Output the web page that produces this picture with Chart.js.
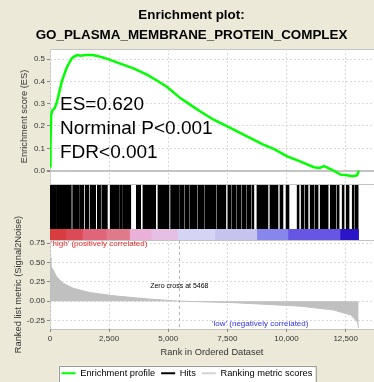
<!DOCTYPE html>
<html>
<head>
<meta charset="utf-8">
<script src="https://cdn.jsdelivr.net/npm/chart.js@4.4.1/dist/chart.umd.min.js"></script>
<style>
  html, body { margin:0; padding:0; width:374px; height:382px; overflow:hidden; background:#ece9d8; }
  .panel { position:absolute; left:50px; width:340px; background:#fff; border:1px solid #c4c4c4; box-sizing:border-box; }
  canvas { position:absolute; left:0; }
</style>
</head>
<body>
<div class="panel" style="top:49px;height:136px"></div>
<div class="panel" style="top:184px;height:57px"></div>
<div class="panel" style="top:240px;height:90px"></div>
<canvas id="es" width="374" height="184" style="top:0"></canvas>
<canvas id="hits" width="374" height="44" style="top:185px"></canvas>
<canvas id="strip" width="374" height="11" style="top:229px"></canvas>
<canvas id="metric" width="374" height="188" style="top:200px"></canvas>
<script>
Chart.defaults.font.family = '"Liberation Sans", Arial, sans-serif';

// axis ticks
const rankTicks = [0, 2500, 5000, 7500, 10000, 12500];
const esTicks = [0, 0.1, 0.2, 0.3, 0.4, 0.5];
const metricTicks = [-0.25, 0, 0.25, 0.5, 0.75];
const rankMax = 13700;

// running enrichment score
const esRank  = [0, 20, 50, 100, 200, 300, 400, 500, 600, 700, 800, 900, 1000, 1150, 1300, 1500, 1800, 2000, 2300, 2540, 3000, 3530, 4100, 4500, 4940, 5510, 6000, 6360, 6920, 7500, 8330, 9000, 9500, 10030, 10600, 11160, 11400, 11590, 11900, 12290, 12500, 12780, 12950, 13000, 13050];
const esValue = [0.02, 0.12, 0.25, 0.27, 0.28, 0.31, 0.355, 0.40, 0.43, 0.46, 0.48, 0.50, 0.51, 0.518, 0.515, 0.518, 0.518, 0.514, 0.505, 0.496, 0.478, 0.458, 0.43, 0.405, 0.376, 0.325, 0.29, 0.265, 0.228, 0.198, 0.153, 0.118, 0.095, 0.064, 0.04, 0.015, 0.012, 0.02, 0.005, -0.018, -0.02, -0.025, -0.022, -0.018, 0.0];

// gene set hits (blocks of ranks)
const hitStart = [0, 270, 960, 1250, 1490, 1700, 2000, 2190, 2545, 2945, 3085, 3650, 3930, 4565, 5100, 5480, 5700, 5910, 6040, 6250, 6545, 6885, 7055, 7520, 7690, 7900, 8115, 8325, 8540, 8750, 9005, 9300, 9725, 9980, 10450, 10620, 10790, 11000, 11210, 11425, 11550, 11850, 11975, 12145, 12355, 12525, 12780, 12905];
const hitEnd   = [240, 900, 1215, 1430, 1645, 1930, 2140, 2425, 2915, 3060, 3415, 3835, 4470, 5035, 5445, 5655, 5870, 6035, 6205, 6505, 6885, 7010, 7435, 7650, 7860, 8070, 8285, 8495, 8620, 9000, 9215, 9640, 9850, 10105, 10530, 10740, 10910, 11165, 11335, 11545, 11760, 11970, 12095, 12225, 12435, 12645, 12860, 13030];

// ranked list colour strip
const stripStart = [0, 700, 1400, 2400, 3390, 4300, 5420, 7000, 8770, 10085, 12290];
const stripEnd   = [700, 1400, 2400, 3390, 4300, 5420, 7000, 8770, 10085, 12290, 13050];
const stripColor = ['#d83c3e', '#dc4a56', '#e0647a', '#e07a8a', '#eab0d8', '#e6c0e4', '#d4d4f4', '#c4c4ee', '#8686ec', '#6656e4', '#2a16c8'];

// ranked list metric
const metricRank  = [0, 40, 140, 280, 560, 990, 1700, 2830, 4240, 5468, 7770, 10600, 12000, 12720, 13000, 13050];
const metricValue = [0.56, 0.45, 0.40, 0.315, 0.23, 0.165, 0.11, 0.065, 0.026, 0, -0.02, -0.065, -0.115, -0.18, -0.27, -0.345];
const zeroCross = 5468;

const statLines = ['ES=0.620', 'Norminal P<0.001', 'FDR<0.001'];

const gridColor = '#dadada';
const tickFont = { size: 8 };
const setTicks = list => scale => { scale.ticks = list.map(v => ({ value: v })); };
const fixWidth = w => s => { s.width = w; s.paddingTop = 0; s.paddingBottom = 0; };

const statsPlugin = {
  id: 'stats',
  afterDraw(chart) {
    const ctx = chart.ctx, a = chart.chartArea;
    ctx.save();
    ctx.font = '19px "Liberation Sans", Arial, sans-serif';
    ctx.fillStyle = '#000';
    ctx.textBaseline = 'middle';
    statLines.forEach((t, i) => ctx.fillText(t, a.left + 10, a.top + 56 + i * 24));
    ctx.restore();
  }
};

new Chart(document.getElementById('es'), {
  type: 'line',
  data: {
    datasets: [{
      data: esRank.map((r, i) => ({ x: r, y: esValue[i] })),
      borderColor: '#00ff00', borderWidth: 2.5, pointRadius: 0, fill: false, tension: 0
    }]
  },
  options: {
    responsive: false, animation: false,
    layout: { padding: { left: 9, right: 0, top: 0, bottom: 0 } },
    plugins: {
      legend: { display: false }, tooltip: { enabled: false },
      title: {
        display: true,
        text: ['Enrichment plot:', 'GO_PLASMA_MEMBRANE_PROTEIN_COMPLEX'],
        color: '#000', font: { size: 13.4, weight: 'bold', lineHeight: 20 / 13.4 },
        padding: { top: 5, bottom: 4 }
      }
    },
    scales: {
      x: {
        type: 'linear', min: 0, max: rankMax, afterBuildTicks: setTicks(rankTicks),
        afterFit: s => { s.height = 0; s.paddingLeft = 0; s.paddingRight = 0; },
        ticks: { display: false },
        grid: { color: gridColor, drawTicks: false },
        border: { display: false, dash: [2, 2] }
      },
      y: {
        min: -0.06, max: 0.545, afterBuildTicks: setTicks(esTicks),
        afterFit: fixWidth(41),
        ticks: { font: tickFont, color: '#333', padding: 2, callback: v => v.toFixed(1) },
        grid: {
          color: c => (c.tick && c.tick.value === 0 ? '#c4c4c4' : gridColor),
          lineWidth: c => (c.tick && c.tick.value === 0 ? 2 : 1),
          tickLength: 3, tickColor: '#888'
        },
        border: { display: false, dash: c => (c.tick && c.tick.value === 0 ? [] : [2, 2]) },
        title: { display: true, text: 'Enrichment score (ES)', color: '#333', font: { size: 9.3 }, padding: { top: 9.4, bottom: 0 } }
      }
    }
  },
  plugins: [statsPlugin]
});

function stripChart(id, starts, ends, colors) {
  return new Chart(document.getElementById(id), {
    type: 'bar',
    data: {
      labels: ['r'],
      datasets: [{
        data: starts.map((s, i) => ({ x: [s, ends[i]], y: 'r' })),
        backgroundColor: colors, borderWidth: 0,
        barPercentage: 1, categoryPercentage: 1, grouped: false
      }]
    },
    options: {
      indexAxis: 'y', responsive: false, animation: false,
      layout: { padding: { left: 50, right: 0, top: 0, bottom: 0 } },
      plugins: { legend: { display: false }, tooltip: { enabled: false } },
      scales: {
        x: { type: 'linear', min: 0, max: rankMax, display: false },
        y: { display: false }
      }
    }
  });
}
stripChart('hits', hitStart, hitEnd, '#000');
stripChart('strip', stripStart, stripEnd, stripColor);

const notesPlugin = {
  id: 'notes',
  beforeDraw(chart) {
    const boxes = chart.legend && chart.legend.legendHitBoxes;
    if (!boxes || !boxes.length) return;
    const ctx = chart.ctx;
    const l = Math.min(...boxes.map(b => b.left)) - 3;
    const r = Math.max(...boxes.map(b => b.left + b.width)) + 3;
    const t = boxes[0].top - 3;
    ctx.save();
    ctx.fillStyle = '#fff';
    ctx.strokeStyle = '#999';
    ctx.lineWidth = 1;
    ctx.fillRect(l, t, r - l, chart.height - t + 2);
    ctx.strokeRect(Math.round(l) + 0.5, Math.round(t) + 0.5, r - l, chart.height - t + 4);
    ctx.restore();
  },
  afterDatasetsDraw(chart) {
    const ctx = chart.ctx, a = chart.chartArea;
    const zx = chart.scales.x.getPixelForValue(zeroCross);
    ctx.save();
    ctx.strokeStyle = '#b4b4b4';
    ctx.setLineDash([3, 3]);
    ctx.beginPath();
    ctx.moveTo(Math.round(zx) + 0.5, a.top);
    ctx.lineTo(Math.round(zx) + 0.5, a.bottom);
    ctx.stroke();
    ctx.setLineDash([]);
    ctx.textBaseline = 'middle';
    ctx.font = '7px "Liberation Sans", Arial, sans-serif';
    ctx.fillStyle = '#000';
    ctx.textAlign = 'center';
    ctx.fillText('Zero cross at ' + zeroCross, zx, a.top + 46);
    ctx.font = '8px "Liberation Sans", Arial, sans-serif';
    ctx.textAlign = 'left';
    ctx.fillStyle = '#e42828';
    ctx.fillText("'high' (positively correlated)", a.left + 1, a.top + 4);
    ctx.fillStyle = '#3232e6';
    ctx.fillText("'low' (negatively correlated)", a.left + 162, a.bottom - 5);
    ctx.restore();
  }
};

const legendItems = [
  { text: 'Enrichment profile', fillStyle: '#00ff00' },
  { text: 'Hits', fillStyle: '#000000' },
  { text: 'Ranking metric scores', fillStyle: '#d4d4d4' }
];

new Chart(document.getElementById('metric'), {
  type: 'line',
  data: {
    datasets: [{
      label: 'Ranking metric scores',
      data: metricRank.map((r, i) => ({ x: r, y: metricValue[i] })),
      borderColor: '#c0c0c0', backgroundColor: '#c0c0c0', borderWidth: 1,
      pointRadius: 0, fill: 'origin', tension: 0
    }]
  },
  options: {
    responsive: false, animation: false,
    layout: { padding: { left: 0, right: 0, top: 40, bottom: 0 } },
    plugins: {
      tooltip: { enabled: false },
      legend: {
        position: 'bottom',
        labels: {
          boxWidth: 14, boxHeight: 2, padding: 6, color: '#000', font: { size: 9.3 },
          generateLabels: () => legendItems.map(it => ({
            text: it.text, fillStyle: it.fillStyle, strokeStyle: it.fillStyle, lineWidth: 0, hidden: false
          }))
        }
      }
    },
    scales: {
      x: {
        type: 'linear', min: 0, max: rankMax, afterBuildTicks: setTicks(rankTicks),
        afterFit: s => { s.height = 33.7; },
        ticks: { font: tickFont, color: '#333', padding: 1.5, maxRotation: 0, autoSkip: false,
                 callback: v => v.toLocaleString('en-US') },
        grid: { color: gridColor, tickLength: 3, tickColor: '#888' },
        border: { display: false, dash: [2, 2] },
        title: { display: true, text: 'Rank in Ordered Dataset', color: '#333', font: { size: 9.3 }, padding: { top: 0, bottom: 5 } }
      },
      y: {
        min: -0.36, max: 0.79, afterBuildTicks: setTicks(metricTicks),
        afterFit: s => { s.width = 50; },
        ticks: { font: tickFont, color: '#333', padding: 2, callback: v => v.toFixed(2) },
        grid: { color: gridColor, tickLength: 3, tickColor: '#888' },
        border: { display: false, dash: [2, 2] },
        title: { display: true, text: 'Ranked list metric (Signal2Noise)', color: '#333', font: { size: 9.3 }, padding: { top: 13, bottom: 0 } }
      }
    }
  },
  plugins: [notesPlugin]
});
</script>
</body>
</html>
